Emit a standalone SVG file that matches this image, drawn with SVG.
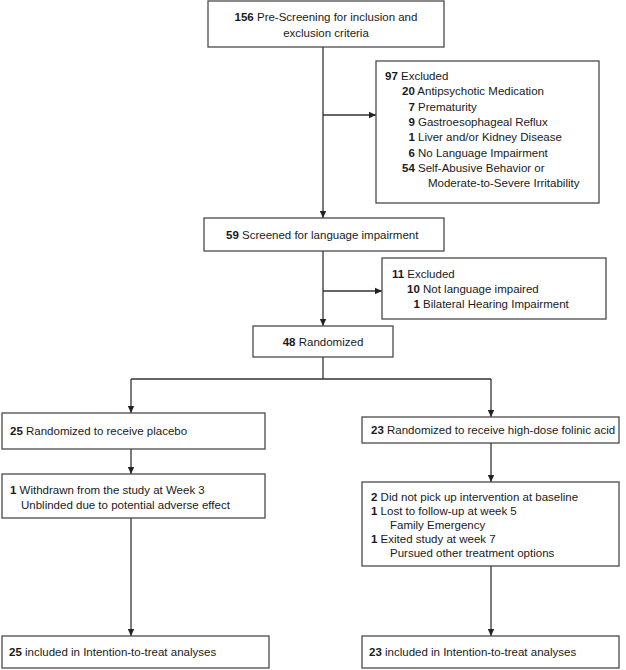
<svg xmlns="http://www.w3.org/2000/svg" width="626" height="670" viewBox="0 0 626 670">
<style>
.box{fill:#fff;stroke:#4a4a4a;stroke-width:1.3}
.t{font-family:"Liberation Sans",Arial,sans-serif;font-size:11.5px;fill:#1a1a1a}
.b{font-weight:bold}
.c{fill:none;stroke:#333;stroke-width:1.3}
</style>
<defs>
<marker id="ah" markerWidth="8" markerHeight="8" refX="7" refY="4" orient="auto" markerUnits="userSpaceOnUse">
<path d="M0,0.8 L7,4 L0,7.2 Z" fill="#222"/>
</marker>
</defs>
<rect width="626" height="670" fill="#fff"/>
<g id="connectors">
<line class="c" x1="323" y1="47" x2="323" y2="218" marker-end="url(#ah)"/>
<line class="c" x1="323" y1="115" x2="376" y2="115" marker-end="url(#ah)"/>
<line class="c" x1="323" y1="251" x2="323" y2="326" marker-end="url(#ah)"/>
<line class="c" x1="323" y1="291" x2="382" y2="291" marker-end="url(#ah)"/>
<polyline class="c" points="323,357 323,379"/>
<polyline class="c" points="131,379 491,379"/>
<line class="c" x1="131" y1="379" x2="131" y2="413" marker-end="url(#ah)"/>
<line class="c" x1="491" y1="379" x2="491" y2="417" marker-end="url(#ah)"/>
<line class="c" x1="131" y1="449" x2="131" y2="474" marker-end="url(#ah)"/>
<line class="c" x1="131" y1="518" x2="131" y2="636" marker-end="url(#ah)"/>
<line class="c" x1="491" y1="443" x2="491" y2="482" marker-end="url(#ah)"/>
<line class="c" x1="491" y1="566" x2="491" y2="636" marker-end="url(#ah)"/>
</g>
<g id="prescreen">
<rect class="box" x="208" y="1" width="236" height="46"/>
<text class="t" x="326" y="21" text-anchor="middle"><tspan class="b">156</tspan> Pre-Screening for inclusion and</text>
<text class="t" x="326" y="37" text-anchor="middle">exclusion criteria</text>
</g>
<g id="excluded97">
<rect class="box" x="376" y="61" width="223" height="142"/>
<text class="t" x="385" y="80"><tspan class="b">97</tspan> Excluded</text>
<text class="t" x="402" y="95.3"><tspan class="b">20</tspan> Antipsychotic Medication</text>
<text class="t" x="408.4" y="110.6"><tspan class="b">7</tspan> Prematurity</text>
<text class="t" x="408.4" y="125.9"><tspan class="b">9</tspan> Gastroesophageal Reflux</text>
<text class="t" x="408.4" y="141.2"><tspan class="b">1</tspan> Liver and/or Kidney Disease</text>
<text class="t" x="408.4" y="156.5"><tspan class="b">6</tspan> No Language Impairment</text>
<text class="t" x="402" y="171.8"><tspan class="b">54</tspan> Self-Abusive Behavior or</text>
<text class="t" x="428" y="187.1">Moderate-to-Severe Irritability</text>
</g>
<g id="screened59">
<rect class="box" x="204" y="218" width="240" height="33"/>
<text class="t" x="226" y="238.5"><tspan class="b">59</tspan> Screened for language impairment</text>
</g>
<g id="excluded11">
<rect class="box" x="382" y="258" width="224" height="61"/>
<text class="t" x="392" y="278"><tspan class="b">11</tspan> Excluded</text>
<text class="t" x="407" y="293"><tspan class="b">10</tspan> Not language impaired</text>
<text class="t" x="413.4" y="308"><tspan class="b">1</tspan> Bilateral Hearing Impairment</text>
</g>
<g id="randomized48">
<rect class="box" x="253" y="326" width="140" height="31"/>
<text class="t" x="323" y="345.5" text-anchor="middle"><tspan class="b">48</tspan> Randomized</text>
</g>
<g id="placebo">
<rect class="box" x="2" y="413" width="263" height="36"/>
<text class="t" x="10" y="434.5"><tspan class="b">25</tspan> Randomized to receive placebo</text>
</g>
<g id="withdrawn">
<rect class="box" x="2" y="474" width="263" height="44"/>
<text class="t" x="10" y="494"><tspan class="b">1</tspan> Withdrawn from the study at Week 3</text>
<text class="t" x="21" y="509">Unblinded due to potential adverse effect</text>
</g>
<g id="itt25">
<rect class="box" x="2" y="636" width="267" height="32"/>
<text class="t" x="9" y="656"><tspan class="b">25</tspan> included in Intention-to-treat analyses</text>
</g>
<g id="folinic">
<rect class="box" x="362" y="417" width="257" height="26"/>
<text class="t" x="371" y="434"><tspan class="b">23</tspan> Randomized to receive high-dose folinic acid</text>
</g>
<g id="dropouts">
<rect class="box" x="362" y="482" width="257" height="84"/>
<text class="t" x="371" y="501"><tspan class="b">2</tspan> Did not pick up intervention at baseline</text>
<text class="t" x="371" y="515"><tspan class="b">1</tspan> Lost to follow-up at week 5</text>
<text class="t" x="390" y="529">Family Emergency</text>
<text class="t" x="371" y="543"><tspan class="b">1</tspan> Exited study at week 7</text>
<text class="t" x="390" y="557">Pursued other treatment options</text>
</g>
<g id="itt23">
<rect class="box" x="362" y="636" width="257" height="32"/>
<text class="t" x="369" y="656"><tspan class="b">23</tspan> included in Intention-to-treat analyses</text>
</g>
</svg>
